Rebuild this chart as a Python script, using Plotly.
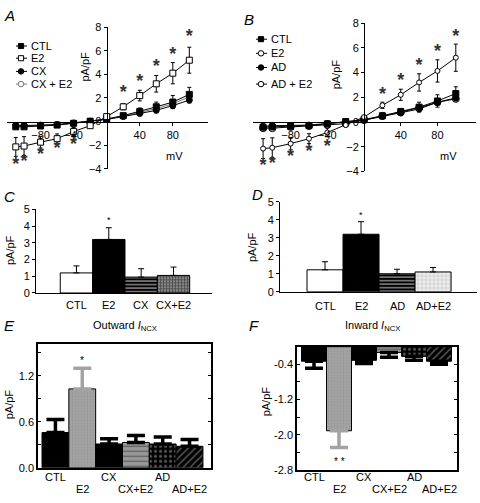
import plotly.graph_objects as go

W, H = 480, 503
FONT = "Liberation Sans, Arial, sans-serif"

# ---------------- data ----------------
V = [-110, -100, -80, -60, -40, -20, 0, 20, 40, 60, 80, 100]

ctl_A = [-0.45, -0.45, -0.38, -0.30, -0.15, 0.03, 0.22, 0.50, 0.85, 1.25, 1.65, 2.30]
ctl_A_err = [0.12, 0.12, 0.10, 0.08, 0.06, 0.05, 0.05, 0.15, 0.30, 0.40, 0.55, 0.60]
e2_A = [-2.15, -2.08, -1.75, -1.45, -0.85, -0.35, 0.42, 1.25, 2.20, 3.20, 4.10, 5.20]
e2_A_err = [0.80, 0.80, 0.50, 0.40, 0.35, 0.10, 0.10, 0.25, 0.45, 0.70, 0.90, 1.10]
cx_A = [-0.35, -0.35, -0.30, -0.25, -0.12, 0.03, 0.18, 0.42, 0.68, 0.95, 1.35, 1.82]
cx_A_err = [0.08, 0.08, 0.07, 0.06, 0.05, 0.04, 0.04, 0.10, 0.15, 0.20, 0.25, 0.25]
cxe2_A = [-0.40, -0.40, -0.33, -0.27, -0.13, 0.04, 0.20, 0.46, 0.75, 1.10, 1.50, 2.10]
stars_A_pos_v = [20, 40, 60, 80, 100]
stars_A_pos_y = [2.35, 3.30, 4.60, 5.60, 7.10]
stars_A_neg_v = [-110, -100, -80, -60, -40]
stars_A_neg_y = [-3.70, -3.45, -2.90, -2.35, -2.05]

ctl_B = [-0.42, -0.40, -0.35, -0.28, -0.15, 0.03, 0.20, 0.50, 0.85, 1.20, 1.70, 2.30]
ctl_B_err = [0.10, 0.10, 0.08, 0.07, 0.06, 0.05, 0.05, 0.15, 0.25, 0.40, 0.50, 0.55]
e2_B = [-2.15, -2.08, -1.75, -1.35, -0.85, -0.25, 0.40, 1.35, 2.20, 3.20, 4.13, 5.20]
e2_B_err = [0.80, 0.80, 0.50, 0.40, 0.35, 0.10, 0.10, 0.25, 0.45, 0.70, 0.90, 1.10]
ad_B = [-0.35, -0.30, -0.28, -0.25, -0.12, 0.03, 0.15, 0.45, 0.72, 1.05, 1.60, 1.95]
ad_B_err = [0.08, 0.08, 0.07, 0.06, 0.05, 0.04, 0.04, 0.10, 0.15, 0.20, 0.25, 0.25]
ade2_B = [-0.50, -0.50, -0.40, -0.33, -0.22, -0.14, 0.15, 0.50, 0.80, 1.15, 1.60, 1.87]
stars_B_pos_v = [20, 40, 60, 80, 100]
stars_B_pos_y = [2.15, 3.25, 4.45, 5.60, 6.85]
stars_B_neg_v = [-110, -100, -80, -60, -40]
stars_B_neg_y = [-3.60, -3.45, -2.90, -2.50, -2.10]

cats_C = ["CTL", "E2", "CX", "CX+E2"]
vals_C = [1.20, 3.20, 0.95, 1.05]
errs_C = [0.42, 0.70, 0.50, 0.50]

cats_D = ["CTL", "E2", "AD", "AD+E2"]
vals_D = [1.22, 3.20, 1.00, 1.10]
errs_D = [0.45, 0.70, 0.25, 0.25]

cats_EF = ["CTL", "E2", "CX", "CX+E2", "AD", "AD+E2"]
vals_E = [0.46, 1.03, 0.31, 0.33, 0.31, 0.28]
errs_E = [0.17, 0.27, 0.07, 0.09, 0.09, 0.09]
vals_F = [-0.33, -1.91, -0.31, -0.13, -0.22, -0.33]
errs_F = [0.16, 0.38, 0.07, 0.11, 0.09, 0.07]

# ---------------- helpers ----------------
def px_x(p):
    return p / W

def px_y(p):
    return 1 - p / H

fig = go.Figure()

def add_iv(xa, ya, x, y, err, sym, msize, color, lcolor, mfill):
    fig.add_trace(go.Scatter(
        x=x, y=y, mode="lines+markers", xaxis=xa, yaxis=ya,
        line=dict(color=lcolor, width=1),
        marker=dict(symbol=sym, size=msize, color=mfill,
                    line=dict(color=color, width=1)),
        error_y=None if err is None else dict(type="data", array=err, visible=True,
                                              color="black", thickness=1, width=2),
        showlegend=False, hoverinfo="skip"))

def add_stars(xa, ya, xs, ys):
    fig.add_trace(go.Scatter(
        x=xs, y=ys, mode="text", text=["<b>*</b>"] * len(xs), xaxis=xa, yaxis=ya,
        textfont=dict(family=FONT, size=18, color="#333"),
        textposition="middle center", showlegend=False, hoverinfo="skip"))

# Panel A
add_iv("x", "y", V, cxe2_A, None, "circle", 5, "#777", "#777", "white")
add_iv("x", "y", V, cx_A, cx_A_err, "circle", 6, "black", "black", "black")
add_iv("x", "y", V, ctl_A, ctl_A_err, "square", 6, "black", "black", "black")
add_iv("x", "y", V, e2_A, e2_A_err, "square", 6, "black", "black", "white")
add_stars("x", "y", stars_A_pos_v, stars_A_pos_y)
add_stars("x", "y", stars_A_neg_v, stars_A_neg_y)

# Panel B
add_iv("x2", "y2", V, ade2_B, None, "circle", 7, "black", "black", "white")
add_iv("x2", "y2", V, ad_B, ad_B_err, "circle", 6, "black", "black", "black")
add_iv("x2", "y2", V, ctl_B, ctl_B_err, "square", 6, "black", "black", "black")
add_iv("x2", "y2", V, e2_B, e2_B_err, "circle", 5, "black", "black", "white")
add_stars("x2", "y2", stars_B_pos_v, stars_B_pos_y)
add_stars("x2", "y2", stars_B_neg_v, stars_B_neg_y)

# Bar panels C, D
styles_CD = [
    dict(color="white"),
    dict(color="black"),
    dict(color="black", pattern=dict(shape="-", fgcolor="white", bgcolor="black", size=3.5, solidity=0.45)),
]
style_C4 = dict(color="#444", pattern=dict(shape="+", fgcolor="#111", bgcolor="#888", size=3, solidity=0.5))
style_D4 = dict(color="#ddd", pattern=dict(shape="+", fgcolor="#999", bgcolor="#eee", size=4, solidity=0.3))

def add_bars(xa, ya, vals, errs, styles, errcolors, thick, cap, upward=True):
    for i, (v, e) in enumerate(zip(vals, errs)):
        st = styles[i]
        marker = dict(color=st["color"], line=dict(color="black", width=1))
        if "pattern" in st:
            marker["pattern"] = st["pattern"]
        ed = dict(type="data", symmetric=False, visible=True, color=errcolors[i],
                  thickness=thick, width=cap)
        if upward:
            ed["array"] = [e]; ed["arrayminus"] = [0]
        else:
            ed["array"] = [0]; ed["arrayminus"] = [e]
        fig.add_trace(go.Bar(x=[i], y=[v], width=1, xaxis=xa, yaxis=ya, marker=marker,
                             error_y=ed, showlegend=False, hoverinfo="skip"))

add_bars("x3", "y3", vals_C, errs_C, styles_CD + [style_C4], ["black"] * 4, 1, 3)
add_bars("x4", "y4", vals_D, errs_D, styles_CD + [style_D4], ["black"] * 4, 1, 3)

GRAY = "#a3a3a3"
styles_EF = [
    dict(color="black"),
    dict(color=GRAY, pattern=dict(shape=".", fgcolor="#8a8a8a", bgcolor=GRAY, size=3, solidity=0.3)),
    dict(color="black"),
    dict(color="#999", pattern=dict(shape="-", fgcolor="#222", bgcolor="#999", size=5, solidity=0.25)),
    dict(color="black", pattern=dict(shape=".", fgcolor="#aaa", bgcolor="black", size=5, solidity=0.3)),
    dict(color="black", pattern=dict(shape="/", fgcolor="#aaa", bgcolor="black", size=5, solidity=0.3)),
]
errc_EF = ["black", GRAY, "black", "black", "black", "black"]
add_bars("x5", "y5", vals_E, errs_E, styles_EF, errc_EF, 3.5, 9, upward=True)
add_bars("x6", "y6", vals_F, errs_F, styles_EF, errc_EF, 3.5, 9, upward=False)

# ---------------- layout ----------------
tickfont = dict(family=FONT, size=11, color="black")

def zero_pos(dom, rng):
    return dom[0] + (0 - rng[0]) / (rng[1] - rng[0]) * (dom[1] - dom[0])

# A
xA_dom = [px_x(6.7), px_x(208)]; xA_rng = [-121, 122.6]
yA_dom = [px_y(166.7), px_y(21.7)]; yA_rng = [-4, 8]
# B
xB_dom = [px_x(253), px_x(476)]; xB_rng = [-121, 122]
yB_dom = [px_y(169.5), px_y(17.5)]; yB_rng = [-4, 8]

def iv_axes(xdom, xrng, ydom, yrng):
    xa = dict(domain=xdom, range=xrng, anchor="free", position=zero_pos(ydom, yrng),
              showline=True, linecolor="black", linewidth=1, showgrid=False, zeroline=False,
              tickvals=[-80, -40, 40, 80], ticks="outside", ticklen=3, tickcolor="black",
              tickfont=tickfont)
    ya = dict(domain=ydom, range=yrng, anchor="free", position=zero_pos(xdom, xrng),
              showline=True, linecolor="black", linewidth=1, showgrid=False, zeroline=False,
              tickvals=[-4, -2, 0, 2, 4, 6, 8], ticks="outside", ticklen=3, tickcolor="black",
              tickfont=tickfont)
    return xa, ya

xa1, ya1 = iv_axes(xA_dom, xA_rng, yA_dom, yA_rng)
xa2, ya2 = iv_axes(xB_dom, xB_rng, yB_dom, yB_rng)

def bar_axes(xdom, xrng, ydom, yrng, ya_name):
    xa = dict(domain=xdom, range=xrng, anchor=ya_name, showline=True, linecolor="black",
              linewidth=1, showgrid=False, zeroline=False, showticklabels=False, ticks="")
    ya = dict(domain=ydom, range=yrng, showline=True, linecolor="black", linewidth=1,
              showgrid=False, zeroline=False, tickvals=[0, 1, 2, 3, 4, 5], ticks="outside",
              ticklen=3, tickcolor="black", tickfont=tickfont)
    return xa, ya

xa3, ya3 = bar_axes([px_x(36), px_x(212)], [-1.25, 4.19], [px_y(294), px_y(208.3)], [0, 5], "y3")
ya3["anchor"] = "x3"
xa4, ya4 = bar_axes([px_x(280), px_x(477)], [-1.25, 4.22], [px_y(292.7), px_y(200.7)], [0, 5], "y4")
ya4["anchor"] = "x4"

def box_axes(xdom, xrng, ydom, yrng, tv, tt, xa_name, ya_name):
    xa = dict(domain=xdom, range=xrng, anchor=ya_name, showline=True, mirror=True,
              linecolor="black", linewidth=1.5, showgrid=False, zeroline=False,
              showticklabels=False, ticks="")
    ya = dict(domain=ydom, range=yrng, anchor=xa_name, showline=True, mirror="ticks",
              linecolor="black", linewidth=1.5, showgrid=False, zeroline=False,
              tickvals=tv, ticktext=tt, ticks="inside", ticklen=3, tickcolor="black",
              tickfont=tickfont)
    return xa, ya

xa5, ya5 = box_axes([px_x(38), px_x(211)], [-0.65, 5.8], [px_y(473), px_y(346)], [0, 1.62],
                    [0, 0.3, 0.6, 0.9, 1.2, 1.5], ["0.0", " ", "0.6", " ", "1.2", " "], "x5", "y5")
xa6, ya6 = box_axes([px_x(297), px_x(457)], [-0.68, 5.72], [px_y(475.3), px_y(349)], [-2.8, 0],
                    [-2.8, -2.4, -2.0, -1.6, -1.2, -0.8, -0.4],
                    ["-2.8", " ", "-2.0", " ", "-1.2", " ", "-0.4"], "x6", "y6")

fig.update_layout(
    width=W, height=H, margin=dict(l=0, r=0, t=0, b=0),
    paper_bgcolor="white", plot_bgcolor="rgba(0,0,0,0)",
    barmode="overlay", showlegend=False,
    font=dict(family=FONT, size=11, color="black"),
    xaxis=xa1, yaxis=ya1, xaxis2=xa2, yaxis2=ya2, xaxis3=xa3, yaxis3=ya3,
    xaxis4=xa4, yaxis4=ya4, xaxis5=xa5, yaxis5=ya5, xaxis6=xa6, yaxis6=ya6,
)

ann = []
def txt(x, y, s, size=11, angle=0, italic=False, xanchor="center", color="black", xref="paper", yref="paper"):
    ann.append(dict(x=x, y=y, xref=xref, yref=yref, text=(f"<i>{s}</i>" if italic else s),
                    showarrow=False, textangle=angle, xanchor=xanchor, yanchor="middle",
                    font=dict(family=FONT, size=size, color=color)))

# panel letters
for L, (x, y) in {"A": (9, 10), "B": (249, 14), "C": (9, 195), "D": (257, 193),
                  "E": (9, 327), "F": (254, 327)}.items():
    txt(px_x(x), px_y(y), L, size=15, italic=True)

# axis titles
txt(px_x(85), px_y(62), "pA/pF", angle=-90)
txt(px_x(336), px_y(70), "pA/pF", angle=-90)
txt(px_x(174), px_y(154), "mV")
txt(px_x(448), px_y(154), "mV")
txt(px_x(10), px_y(250), "pA/pF", angle=-90)
txt(px_x(252), px_y(247), "pA/pF", angle=-90)
txt(px_x(9), px_y(408), "pA/pF", angle=-90)
txt(px_x(266), px_y(405), "pA/pF", angle=-90)
txt(px_x(125), px_y(328), "Outward <i>I</i><sub>NCX</sub>")
txt(px_x(372), px_y(328), "Inward <i>I</i><sub>NCX</sub>")

# category labels C, D
for i, c in enumerate(cats_C):
    txt(i, px_y(306), c, xref="x3")
for i, c in enumerate(cats_D):
    txt(i, px_y(307), c, xref="x4")
# stars C, D
txt(1, vals_C[1] + errs_C[1] + 0.45, "*", size=9, xref="x3", yref="y3")
txt(1, vals_D[1] + errs_D[1] + 0.35, "*", size=9, xref="x4", yref="y4")

# category labels E, F (staggered)
for i, c in enumerate(cats_EF):
    yy = 483 if i % 2 == 0 else 495
    txt(i, px_y(yy), c, xref="x5")
    txt(i, px_y(yy), c, xref="x6")
txt(1, vals_E[1] + errs_E[1] + 0.1, "*", size=10, xref="x5", yref="y5")
txt(1, -2.6, "* *", size=10, xref="x6", yref="y6")

# ---------------- legends (drawn as decorations) ----------------
shapes = []
def legend_item(x0, yc, label, kind, edge, fill, lcolor):
    shapes.append(dict(type="line", xref="paper", yref="paper",
                       x0=px_x(x0), x1=px_x(x0 + 11), y0=px_y(yc), y1=px_y(yc),
                       line=dict(color=lcolor, width=1)))
    cx = x0 + 5
    r = 2.6 if kind == "square" else 2.8
    shapes.append(dict(type="rect" if kind == "square" else "circle", xref="paper", yref="paper",
                       x0=px_x(cx - r), x1=px_x(cx + r), y0=px_y(yc + r), y1=px_y(yc - r),
                       line=dict(color=edge, width=1), fillcolor=fill))
    txt(px_x(x0 + 13), px_y(yc), label, size=11, xanchor="left")

legend_item(16, 41, "CTL", "square", "black", "black", "black")
legend_item(16, 53.5, "E2", "square", "black", "white", "black")
legend_item(16, 67, "CX", "circle", "black", "black", "black")
legend_item(16, 80, "CX + E2", "circle", "#777", "white", "#777")

legend_item(256, 34, "CTL", "square", "black", "black", "black")
legend_item(256, 48.5, "E2", "circle", "black", "white", "black")
legend_item(256, 63, "AD", "circle", "black", "black", "black")
legend_item(256, 80, "AD + E2", "circle", "black", "white", "black")

fig.update_layout(annotations=ann, shapes=shapes)

fig.write_html("out.html", config={"displayModeBar": False},
               post_script="document.body.style.margin='0px';document.body.style.overflow='hidden';")
